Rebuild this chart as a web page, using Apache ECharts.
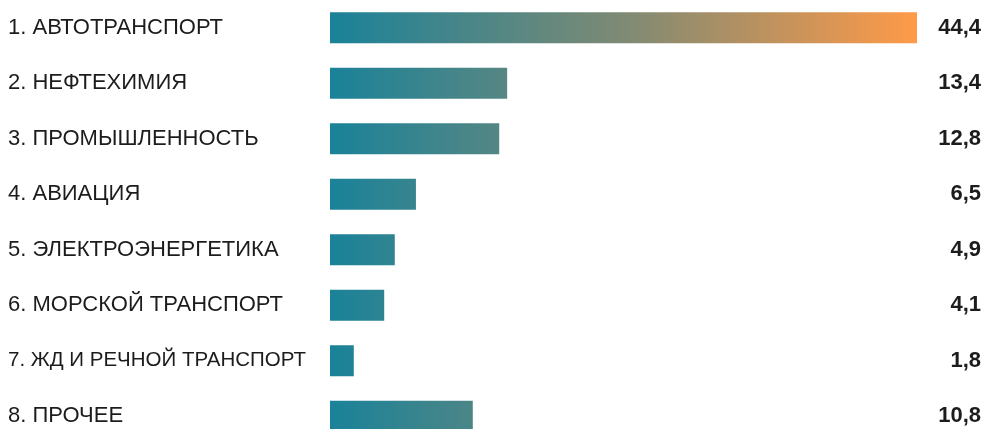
<!DOCTYPE html>
<html>
<head>
<meta charset="utf-8">
<script src="https://cdn.jsdelivr.net/npm/echarts@6/dist/echarts.min.js"></script>
<style>html,body{margin:0;padding:0;background:#fff;overflow:hidden}#c{width:985px;height:444px}</style>
</head>
<body>
<div id="c"></div>
<script>
var categories = ['1. АВТОТРАНСПОРТ','2. НЕФТЕХИМИЯ','3. ПРОМЫШЛЕННОСТЬ','4. АВИАЦИЯ','5. ЭЛЕКТРОЭНЕРГЕТИКА','6. МОРСКОЙ ТРАНСПОРТ','7. ЖД И РЕЧНОЙ ТРАНСПОРТ','8. ПРОЧЕЕ'];
var values = [44.4, 13.4, 12.8, 6.5, 4.9, 4.1, 1.8, 10.8];
var valueLabels = ['44,4','13,4','12,8','6,5','4,9','4,1','1,8','10,8'];

var chart = echarts.init(document.getElementById('c'), null, {renderer:'canvas'});
var grad = {type:'linear', x:330, y:0, x2:917, y2:0, global:true,
  colorStops:[{offset:0,color:'#1a8299'},{offset:0.5,color:'#7e8a74'},{offset:1,color:'#ff9a48'}]};
var font = 'Liberation Sans, Arial, sans-serif';
chart.setOption({
  animation:false,
  grid:{left:330, right:68, top:0, bottom:0, containLabel:false},
  xAxis:{type:'value', min:0, max:'dataMax', show:false},
  yAxis:[{
    type:'category', data:categories, inverse:true,
    axisLine:{show:false}, axisTick:{show:false},
    axisLabel:{align:'left', margin:322, color:'#1c1c1c', fontFamily:font, fontSize:22,
      formatter:function(v){ return v.length > 22 ? '{n|' + v + '}' : v; },
      rich:{n:{fontSize:20.5, fontFamily:font, color:'#1c1c1c'}}}
  },{
    type:'category', data:valueLabels, inverse:true, position:'right',
    axisLine:{show:false}, axisTick:{show:false},
    axisLabel:{align:'right', margin:64, color:'#1c1c1c', fontWeight:'bold', fontFamily:font, fontSize:22}
  }],
  series:[{
    type:'bar', data:values, barWidth:31, yAxisIndex:0,
    itemStyle:{color:grad}
  }]
});
</script>
</body>
</html>
